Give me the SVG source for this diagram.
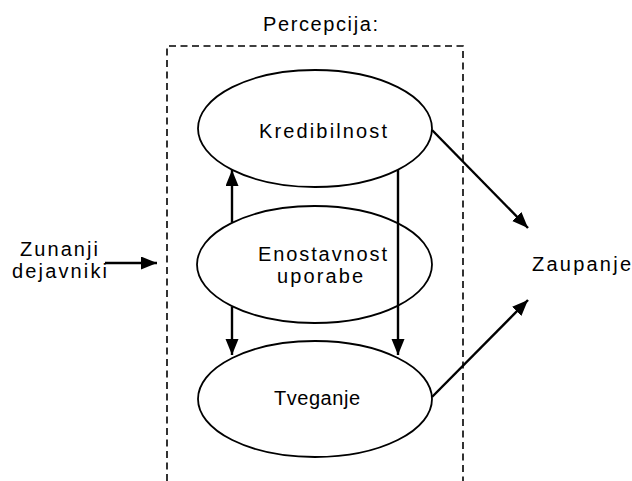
<svg xmlns="http://www.w3.org/2000/svg" width="632" height="481" viewBox="0 0 632 481">
  <style>
    .lbl { font-family: "Liberation Sans", Arial, sans-serif; font-size: 20px; fill: #000; }
    .node ellipse { fill: #fff; stroke: #000; stroke-width: 1.8; }
    .edge { stroke: #000; stroke-width: 2.4; fill: none; marker-end: url(#head); }
    .frame { fill: none; stroke: #000; stroke-width: 1.6; stroke-dasharray: 7 4.5; }
  </style>
  <defs>
    <marker id="head" markerUnits="userSpaceOnUse" markerWidth="17" markerHeight="14" refX="16" refY="6.5" orient="auto">
      <path d="M0,0 L16,6.5 L0,13 z" fill="#000"/>
    </marker>
  </defs>
  <rect width="632" height="481" fill="#fff"/>

  <!-- perception frame (open at the bottom) -->
  <g id="perception">
    <path class="frame" d="M167,481 V46 H463 V481"/>
    <text class="lbl" x="263" y="31" textLength="115" lengthAdjust="spacing">Percepcija:</text>
  </g>

  <g id="kredibilnost" class="node">
    <ellipse cx="315" cy="128.5" rx="117" ry="58.5"/>
    <text class="lbl" x="259" y="138" textLength="128" lengthAdjust="spacing">Kredibilnost</text>
  </g>

  <g id="enostavnost" class="node">
    <ellipse cx="314.5" cy="264.5" rx="117.5" ry="58.5"/>
    <text class="lbl" x="258" y="261" textLength="129" lengthAdjust="spacing">Enostavnost</text>
    <text class="lbl" x="277" y="283" textLength="86" lengthAdjust="spacing">uporabe</text>
  </g>

  <g id="tveganje" class="node">
    <ellipse cx="315" cy="399" rx="117" ry="58"/>
    <text class="lbl" x="274" y="405" textLength="86" lengthAdjust="spacing">Tveganje</text>
  </g>

  <g id="zunanji">
    <text class="lbl" x="20" y="256" textLength="78" lengthAdjust="spacing">Zunanji</text>
    <text class="lbl" x="12" y="278" textLength="95" lengthAdjust="spacing">dejavniki</text>
  </g>

  <g id="zaupanje">
    <text class="lbl" x="532" y="271" textLength="99" lengthAdjust="spacing">Zaupanje</text>
  </g>

  <g id="connectors">
    <line class="edge" x1="105" y1="263" x2="157" y2="263"/>
    <line class="edge" x1="232" y1="222" x2="232" y2="170"/>
    <line class="edge" x1="232" y1="307" x2="232" y2="355"/>
    <line class="edge" x1="398" y1="170" x2="398" y2="355"/>
    <line class="edge" x1="432" y1="130" x2="528" y2="228"/>
    <line class="edge" x1="432" y1="397" x2="528" y2="300"/>
  </g>
</svg>
